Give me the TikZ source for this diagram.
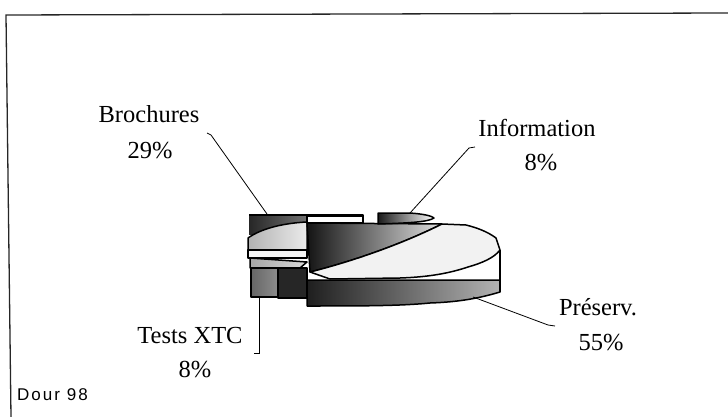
\documentclass[tikz,border=0pt]{standalone}
\usepackage{fontspec}
\setmainfont{Liberation Serif}
\newfontfamily\creditfont{Liberation Sans}[LetterSpace=12]
\begin{document}
\begin{tikzpicture}[x=1pt,y=-1pt,
  rim/.style={draw=black, line width=1.5pt, line join=round},
  lbl/.style={font=\fontsize{24.5}{30}\selectfont, anchor=base, inner sep=0pt},
  leader/.style={draw=black, line width=0.8pt},
  frameline/.style={draw=black!85, line width=1.3pt}]
\useasboundingbox (0,0) rectangle (728,417);

% page frame
\coordinate (fBL) at (11,417);
\coordinate (fTL) at (6,15);
\coordinate (fTR) at (728,13);
\draw[frameline] (fBL) -- (fTL) -- (fTR);

% ---- Brochures slice (left, upper) ----
\fill[left color=black!85, right color=black!55] (249,215) rectangle (307,234);
\filldraw[rim, left color=black!30, right color=black!8]
  (248,238) .. controls (262,228) and (285,223) .. (307,222) -- (307,250) -- (248,250) -- cycle;
\draw[rim] (249,215) -- (363,215) -- (363,223);
\filldraw[rim, fill=white] (307,216) rectangle (363,223);
\filldraw[rim, fill=black!4] (248,250) rectangle (307,258);

% ---- Tests XTC slice (left, lower) ----
\filldraw[rim, left color=black!35, right color=black!15]
  (250,258) -- (307,262) -- (300,268) -- (250,268) -- cycle;
\filldraw[rim, left color=black!60, right color=black!45] (251,268) rectangle (278,297);
\filldraw[rim, fill=black!85] (278,268) rectangle (307,298);

% ---- inner wall, dark to light ----
\filldraw[rim, left color=black!92, right color=black!12]
  (307,223) -- (442,224) .. controls (400,245) and (350,262) .. (310,272) -- cycle;

% ---- Information slice (back) ----
\filldraw[rim, left color=black!90, right color=white]
  (378,213) -- (410,213) .. controls (424,214) and (432,216) .. (434,218)
  .. controls (428,222) and (410,223) .. (378,224) -- cycle;

% ---- Préserv. slice (right, large) ----
\filldraw[rim, left color=black!88, right color=black!30]
  (307,280) -- (500,280) -- (500,292)
  .. controls (480,298) and (460,302) .. (430,303)
  .. controls (400,306) and (360,306) .. (307,306) -- cycle;
\filldraw[rim, fill=black!5]
  (310,272) .. controls (350,262) and (400,245) .. (442,224) -- (466,225)
  .. controls (478,228) and (488,232) .. (496,238) -- (500,250)
  .. controls (494,258) and (482,263) .. (468,267)
  .. controls (450,273) and (430,277) .. (400,278) -- (330,279) -- cycle;
\draw[rim] (500,250) -- (500,292);

% ---- labels ----
\node[lbl] (brochA) at (149,123) {Brochures};
\node[lbl] (brochB) at (150,158) {29\%};
\node[lbl] (infoA) at (537,136) {Information};
\node[lbl] (infoB) at (541,170) {8\%};
\node[lbl] (presA) at (598,315) {Préserv.};
\node[lbl] (presB) at (601,350) {55\%};
\node[lbl] (testA) at (190,343) {Tests XTC};
\node[lbl] (testB) at (195,377) {8\%};
\node[anchor=base west, inner sep=0pt, font=\creditfont\fontsize{17}{19}\selectfont]
  (credit) at (17,400) {Dour 98};

% ---- leader lines ----
\coordinate (bL1) at (207,133);
\coordinate (bL2) at (211,135);
\coordinate (bP) at (267,214);
\draw[leader] (bL1) -- (bL2) -- (bP);

\coordinate (iL1) at (475,147);
\coordinate (iL2) at (469,148);
\coordinate (iP) at (410,213);
\draw[leader] (iL1) -- (iL2) -- (iP);

\coordinate (pL1) at (555,326);
\coordinate (pL2) at (548,325);
\coordinate (pP) at (473,297);
\draw[leader] (pL1) -- (pL2) -- (pP);

\coordinate (tL1) at (254,353);
\coordinate (tL2) at (259,353);
\coordinate (tP) at (259,298);
\draw[leader] (tL1) -- (tL2) -- (tP);
\end{tikzpicture}
\end{document}
